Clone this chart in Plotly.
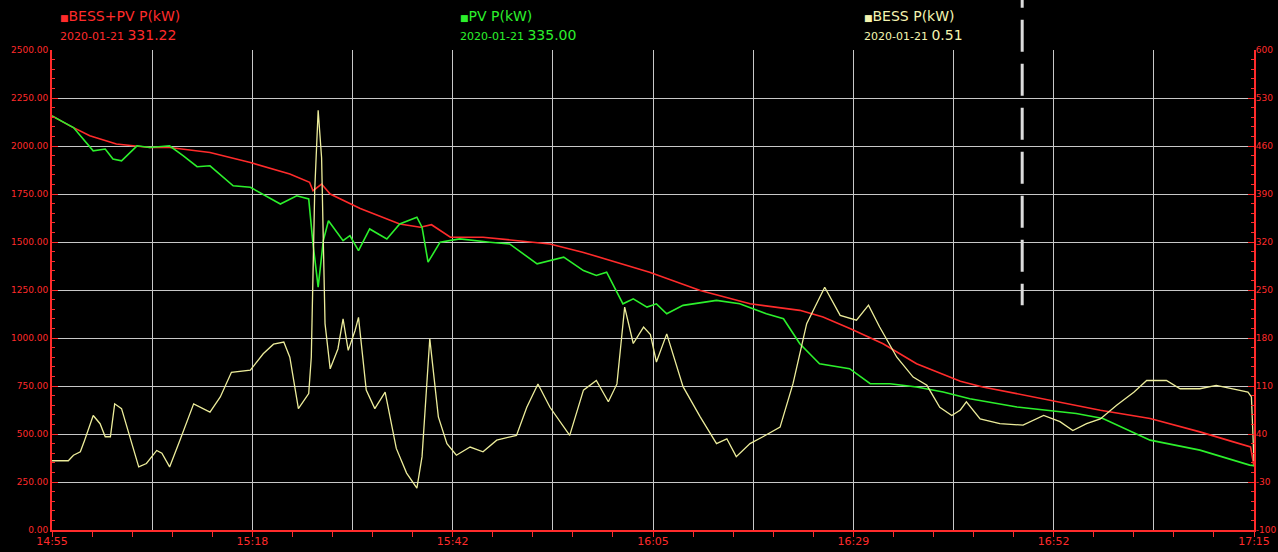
import plotly.graph_objects as go

# time axis: minutes after 14:55 on 2020-01-21
t_total = [0, 2.1, 4.4, 7.5, 11.4, 13.7, 18.4, 23.1, 27.7, 30.0, 30.4, 31.4, 32.4, 35.9,
           40.5, 42.9, 44.2, 46.4, 50.2, 54.1, 58.0, 61.8, 65.8, 69.6, 75.5, 81.3, 87.1,
           89.8, 93.0, 96.8, 100.7, 105.8, 108.4, 116.2, 122.1, 127.9, 133.7, 137.6, 139.6, 140]
p_total = [2157, 2105, 2053, 2010, 1992, 1992, 1966, 1914, 1854, 1811, 1767, 1802, 1750, 1675,
           1594, 1577, 1590, 1525, 1525, 1507, 1490, 1447, 1395, 1343, 1247, 1178, 1144,
           1109, 1048, 970, 866, 775, 745, 676, 624, 581, 511, 459, 433, 331.22]

t_pv = [0, 2.5, 4.8, 6.2, 7.1, 8.1, 9.9, 11.4, 13.7, 15.3, 16.9, 18.4, 21.1, 23.1, 26.6,
        28.5, 29.9, 30.4, 31.0, 31.6, 32.2, 33.9, 34.7, 35.7, 37.0, 39.0, 40.5, 42.5, 43.1,
        43.8, 45.2, 47.5, 51.0, 53.3, 56.5, 59.6, 61.9, 63.4, 64.6, 66.5, 67.7, 69.3, 70.4,
        71.6, 73.5, 77.4, 80.1, 83.2, 85.2, 87.1, 89.4, 92.9, 95.3, 97.6, 100.7, 103.8,
        106.9, 112.4, 119.3, 122.4, 127.9, 133.7, 139.5, 140]
p_pv = [2157, 2096, 1975, 1984, 1932, 1923, 2001, 1992, 2001, 1949, 1892, 1897, 1793, 1785, 1698,
        1741, 1724, 1490, 1265, 1507, 1611, 1507, 1533, 1455, 1568, 1516, 1594, 1629, 1577,
        1395, 1499, 1516, 1499, 1490, 1386, 1421, 1351, 1326, 1343, 1178, 1204, 1161, 1178,
        1126, 1170, 1196, 1178, 1126, 1100, 970, 866, 840, 762, 762, 745, 719,
        684, 641, 607, 581, 468, 416, 338, 335.00]

t_bess = [0, 1.9, 2.5, 3.3, 3.8, 4.8, 5.6, 6.2, 6.8, 7.3, 8.1, 9.1, 10.1, 11.0, 12.2, 12.8,
          13.7, 14.9, 16.5, 18.4, 19.6, 20.9, 23.1, 24.6, 25.8, 27.0, 27.7, 28.7, 29.9, 30.2,
          30.6, 31.0, 31.4, 31.8, 32.4, 33.3, 33.9, 34.5, 35.3, 35.7, 36.6, 37.6, 38.8, 40.1,
          41.3, 42.5, 43.1, 44.0, 45.0, 46.0, 47.1, 48.7, 50.2, 51.8, 54.1, 55.3, 56.6, 58.0,
          60.3, 61.9, 63.4, 64.8, 65.8, 66.7, 67.7, 68.9, 69.7, 70.4, 71.6, 73.5, 75.5, 77.4,
          78.6, 79.7, 81.3, 82.8, 84.8, 86.3, 87.9, 90.0, 91.8, 93.7, 95.1, 96.4, 98.4, 100.3,
          101.9, 103.4, 104.8, 105.8, 106.5, 108.1, 110.4, 113.1, 115.5, 117.4, 118.9, 120.5,
          122.1, 124.0, 126.0, 127.5, 129.8, 131.4, 133.7, 135.6, 137.6, 139.3, 139.7, 140]
p_bess = [1, 1, 9, 14, 31, 67, 55, 36, 36, 84, 77, 36, -8, -3, 16, 12,
          -8, 31, 84, 72, 94, 130, 133, 157, 171, 174, 152, 77, 99, 152,
          395, 512, 443, 201, 135, 164, 208, 162, 191, 210, 104, 77, 101, 19,
          -17, -39, 7, 179, 65, 26, 9, 21, 14, 31, 38, 79, 113, 79,
          38, 104, 118, 87, 113, 225, 172, 196, 185, 145, 186, 109, 65, 26,
          33, 7, 26, 36, 50, 113, 201, 254, 213, 206, 228, 196, 152, 123,
          111, 79, 67, 75, 87, 62, 55, 53, 67, 58, 45, 55,
          62, 82, 101, 118, 118, 106, 106, 111, 106, 101, 94, 0.51]

x_labels = ["14:55", "15:18", "15:42", "16:05", "16:29", "16:52", "17:15"]
right_ticks = [-100, -30, 40, 110, 180, 250, 320, 390, 460, 530, 600]
date_label = "2020-01-21"
cursor_minute = 113.0

RED = "#ff2b2b"
GREEN = "#2cf02c"
YELLOW = "#ecec9a"
FONT = "DejaVu Sans"

span = 140.0
grid_vals = [i * span / 12 for i in range(13)]
grid_text = [x_labels[i // 2] if i % 2 == 0 else "" for i in range(13)]
minor_vals = [i * span / 30 for i in range(31)]

fig = go.Figure()
fig.add_trace(go.Scatter(x=t_total, y=p_total, mode="lines", name="BESS+PV P(kW)",
                         line=dict(color=RED, width=1.6)))
fig.add_trace(go.Scatter(x=t_pv, y=p_pv, mode="lines", name="PV P(kW)",
                         line=dict(color=GREEN, width=1.6)))
fig.add_trace(go.Scatter(x=t_bess, y=p_bess, mode="lines", name="BESS P(kW)", yaxis="y2",
                         line=dict(color=YELLOW, width=1.3)))

fig.update_layout(
    width=1278, height=552,
    margin=dict(l=52, r=24, t=50, b=22, autoexpand=False),
    paper_bgcolor="black", plot_bgcolor="black",
    showlegend=False,
    font=dict(family=FONT, color=RED),
    xaxis=dict(
        range=[0, span], tickmode="array", tickvals=grid_vals, ticktext=grid_text,
        ticks="", showgrid=True, gridcolor="#c8c8c8", gridwidth=1,
        showline=True, linecolor=RED, linewidth=2, zeroline=False,
        tickfont=dict(family=FONT, size=11, color=RED), automargin=False,
        minor=dict(tickvals=minor_vals, ticks="outside", ticklen=5, tickcolor=RED,
                   tickwidth=1, showgrid=False),
    ),
    yaxis=dict(
        range=[0, 2500], tickmode="linear", tick0=0, dtick=250, tickformat=".2f",
        ticks="inside", ticklen=6, tickcolor=RED, showgrid=True, gridcolor="#c8c8c8",
        showline=True, linecolor=RED, linewidth=2, zeroline=False,
        tickfont=dict(family=FONT, size=9, color=RED), automargin=False,
        minor=dict(dtick=50, ticks="inside", ticklen=3, tickcolor=RED, showgrid=False),
    ),
    yaxis2=dict(
        range=[-100, 600], overlaying="y", side="right", tickmode="array",
        tickvals=right_ticks, ticktext=[str(v) for v in right_ticks],
        ticks="inside", ticklen=6, tickcolor=RED,
        showgrid=False, showline=True, linecolor=RED, linewidth=2, zeroline=False,
        tickfont=dict(family=FONT, size=9, color=RED), automargin=False,
        ticklabelstandoff=-2,
        minor=dict(dtick=14, tick0=-100, ticks="inside", ticklen=3, tickcolor=RED,
                   showgrid=False),
    ),
)

# dashed cursor line
fig.add_shape(type="line", xref="x", yref="paper", x0=cursor_minute, x1=cursor_minute,
              y0=1.1545, y1=0.468, line=dict(color="#dcdcdc", width=3, dash="32px,12px"),
              layer="above")

def px_x(px):
    return (px - 52) / 1202

headers = [
    ("BESS+PV P(kW)", p_total[-1], RED, 58),
    ("PV P(kW)", p_pv[-1], GREEN, 458),
    ("BESS P(kW)", p_bess[-1], "#f4f4b0", 862),
]
for name, val, col, px in headers:
    fig.add_annotation(xref="paper", yref="paper", x=px_x(px), y=1.07, xanchor="left",
                       yanchor="middle", showarrow=False,
                       text=f"<span style='font-size:9px'>■</span>{name}",
                       font=dict(family=FONT, size=14, color=col))
    fig.add_annotation(xref="paper", yref="paper", x=px_x(px), y=1.031, xanchor="left",
                       yanchor="middle", showarrow=False,
                       text=f"{date_label} <span style='font-size:14px'>{val:.2f}</span>",
                       font=dict(family=FONT, size=11, color=col))

fig.write_html("out.html")
